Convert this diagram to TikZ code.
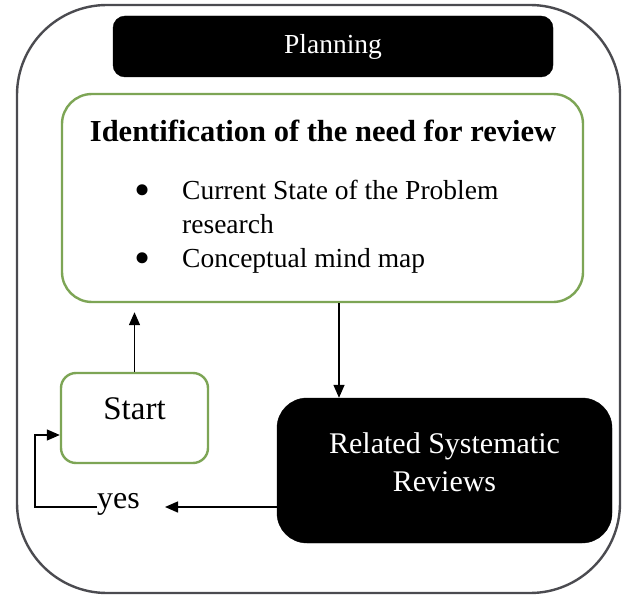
\documentclass[tikz,border=0pt]{standalone}
\usepackage{fontspec}
\setmainfont{Liberation Serif}
\usetikzlibrary{arrows.meta,calc}
\definecolor{boxgreen}{RGB}{125,165,85}
\definecolor{outergray}{RGB}{75,75,80}
\tikzset{
  outerbox/.style={draw=outergray,line width=2.4pt,rounded corners=90pt},
  blackbox/.style={fill=black,draw=black,text=white,inner sep=0pt},
  greenbox/.style={draw=boxgreen,line width=2.4pt,fill=white,inner sep=0pt},
  arr/.style={draw=black,line width=1.4pt,-{Triangle[length=13pt,width=11pt]}},
  plain/.style={inner sep=0pt},
  bodytext/.style={plain,anchor=base west,font=\fontsize{27.5}{31}\selectfont},
  bulletmark/.style={plain,anchor=center,font=\fontsize{46}{50}\selectfont}
}
\begin{document}
\begin{tikzpicture}[x=1pt,y=-1pt]
\useasboundingbox (0,0) rectangle (623,596);
\fill[white] (0,0) rectangle (623,596);
% outer frame
\draw[outerbox] (17,5) rectangle (620,593);
% Planning
\node[blackbox,rounded corners=12pt,minimum width=440pt,minimum height=61pt,
      font=\fontsize{27.5}{31}\selectfont] (plan) at (333,46.5) {Planning};
% Identification box
\node[greenbox,rounded corners=30pt,minimum width=521pt,minimum height=208pt] (idn) at (322.5,198) {};
\node[plain,anchor=base,font=\fontsize{30.5}{34}\selectfont\bfseries] (title) at (323,142)
  {Identification of the need for review};
\node[bulletmark] (b1) at (143,195) {\textbullet};
\node[bulletmark] (b2) at (143,263) {\textbullet};
\node[bodytext] (t1) at (182,199) {Current State of the Problem};
\node[bodytext] (t2) at (182,233) {research};
\node[bodytext] (t3) at (182,267) {Conceptual mind map};
% Start box
\node[greenbox,rounded corners=15pt,minimum width=147pt,text height=46pt,text depth=44pt,
      font=\fontsize{33}{38}\selectfont] (start) at (134.5,418) {Start};
% Related Systematic Reviews box
\node[blackbox,rounded corners=30pt,minimum width=335pt,minimum height=145pt] (rel) at (444.5,470.5) {};
\node[plain,text=white,align=center,font=\fontsize{30}{38}\selectfont] (reltext) at ([yshift=8pt]rel.center)
  {Related Systematic\\Reviews};
% yes
\node[plain,anchor=base west,font=\fontsize{32}{36}\selectfont] (yes) at (97,508) {yes};
\coordinate (ytip) at (165,507);
% connectors
\draw[arr] ([xshift=-105.5pt]rel.north |- idn.south) -- ([xshift=-105.5pt]rel.north);
\draw[arr,shorten >=9pt] (start.north) -- (start.north |- idn.south);
\draw[arr] (rel.west |- ytip) -- (ytip);
\draw[arr] (yes.west |- ytip) -- ++(-62,0) |- ([yshift=-17pt]start.west);
\end{tikzpicture}
\end{document}
